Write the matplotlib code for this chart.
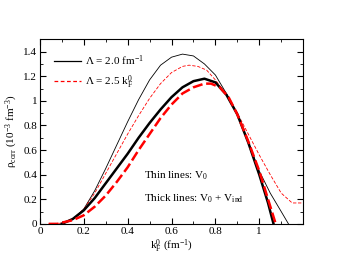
"""Correlated density vs Fermi momentum for two cutoffs, bare and induced interaction."""

import numpy as np
from matplotlib import pyplot as plt
import matplotlib.ticker as tck

plt.rcParams['font.family'] = ['Liberation Serif', 'DejaVu Serif']
plt.rcParams['mathtext.fontset'] = 'custom'
plt.rcParams['mathtext.rm'] = 'Liberation Serif'
plt.rcParams['mathtext.it'] = 'Liberation Serif'

# Lambda = 2.0 fm^-1, V0 only (thin black)
kf_a = [0.10, 0.15, 0.20, 0.25, 0.30, 0.35, 0.40, 0.45, 0.50, 0.55, 0.60, 0.65, 0.70,
        0.75, 0.80, 0.85, 0.90, 0.95, 1.00, 1.05, 1.10, 1.133]
rho_a = [0.0, 0.04, 0.12, 0.27, 0.45, 0.64, 0.83, 1.01, 1.17, 1.29, 1.355, 1.38, 1.365,
         1.30, 1.21, 1.06, 0.89, 0.66, 0.43, 0.25, 0.10, 0.0]

# Lambda = 2.0 fm^-1, V0 + Vind (thick black)
kf_b = [0.10, 0.15, 0.20, 0.25, 0.30, 0.35, 0.40, 0.45, 0.50, 0.55, 0.60, 0.65, 0.70,
        0.75, 0.80, 0.85, 0.90, 0.95, 1.00, 1.04, 1.065]
rho_b = [0.0, 0.04, 0.11, 0.21, 0.33, 0.45, 0.57, 0.70, 0.82, 0.93, 1.03, 1.11, 1.16,
         1.18, 1.15, 1.05, 0.89, 0.66, 0.40, 0.17, 0.0]

# Lambda = 2.5 kF0, V0 only (thin red dashed)
kf_c = [0.04, 0.08, 0.10, 0.15, 0.20, 0.25, 0.30, 0.35, 0.40, 0.45, 0.50, 0.55, 0.60,
        0.65, 0.68, 0.72, 0.76, 0.80, 0.85, 0.90, 0.95, 1.00, 1.05, 1.10, 1.15, 1.20]
rho_c = [0.0, 0.0, 0.01, 0.04, 0.12, 0.25, 0.41, 0.57, 0.73, 0.88, 1.02, 1.14, 1.23,
         1.28, 1.29, 1.28, 1.25, 1.17, 1.05, 0.90, 0.73, 0.56, 0.40, 0.25, 0.17, 0.17]

# Lambda = 2.5 kF0, V0 + Vind (thick red dashed)
kf_d = [0.04, 0.08, 0.10, 0.15, 0.20, 0.25, 0.30, 0.35, 0.40, 0.45, 0.50, 0.55, 0.60,
        0.65, 0.70, 0.75, 0.78, 0.82, 0.86, 0.90, 0.95, 1.00, 1.04, 1.075]
rho_d = [0.0, 0.0, 0.01, 0.03, 0.07, 0.14, 0.23, 0.34, 0.46, 0.60, 0.73, 0.86, 0.97,
         1.06, 1.11, 1.14, 1.14, 1.11, 1.03, 0.89, 0.67, 0.43, 0.20, 0.0]

fig = plt.figure(figsize=(3.41, 2.64), dpi=100)
ax = fig.add_axes([0.117, 0.152, 0.772, 0.699])

ax.plot(kf_a, rho_a, color='black', lw=0.6)
ax.plot(kf_c, rho_c, color='red', lw=0.6, dashes=(4, 2))
ax.plot(kf_b, rho_b, color='black', lw=1.8)
ax.plot(kf_d, rho_d, color='red', lw=1.8, dashes=(4, 1.5))

ax.set_xlim(0, 1.2)
ax.set_ylim(0, 1.5)
ax.xaxis.set_major_locator(tck.FixedLocator([0, 0.2, 0.4, 0.6, 0.8, 1.0]))
ax.xaxis.set_major_formatter(tck.FixedFormatter(['0', '0.2', '0.4', '0.6', '0.8', '1']))
ax.xaxis.set_minor_locator(tck.MultipleLocator(0.1))
ax.yaxis.set_major_locator(tck.FixedLocator([0, 0.2, 0.4, 0.6, 0.8, 1.0, 1.2, 1.4]))
ax.yaxis.set_major_formatter(tck.FixedFormatter(['0', '0.2', '0.4', '0.6', '0.8', '1', '1.2', '1.4']))
ax.yaxis.set_minor_locator(tck.MultipleLocator(0.1))
ax.tick_params(which='both', direction='in', top=True, right=True, labelsize=8, pad=2)
ax.tick_params(which='major', length=4)
ax.tick_params(which='minor', length=2)

ax.set_xlabel(r'k$_\mathrm{F}^\mathrm{0}$ (fm$^\mathrm{-1}$)', fontsize=8, labelpad=1)
ax.set_ylabel(r'$\rho_\mathrm{corr}$ (10$^\mathrm{-3}$ fm$^\mathrm{-3}$)', fontsize=8, labelpad=2)

ax.plot([], [], color='black', lw=0.9, label=r'$\Lambda$ = 2.0 fm$^\mathrm{-1}$')
ax.plot([], [], color='red', lw=0.9, dashes=(3, 2), label=r'$\Lambda$ = 2.5 k$_\mathrm{F}^\mathrm{0}$')
handles, labels = ax.get_legend_handles_labels()
ax.legend(handles[-2:], labels[-2:], loc='upper left', frameon=False, fontsize=8,
          handlelength=2.4, handletextpad=0.4, borderaxespad=0.9, labelspacing=0.45)

ax.text(0.475, 0.37, r'Thin lines: V$_\mathrm{0}$', fontsize=8)
ax.text(0.475, 0.18, r'Thick lines: V$_\mathrm{0}$ + V$_\mathrm{ind}$', fontsize=8)

fig.savefig('out.png', dpi=100)
